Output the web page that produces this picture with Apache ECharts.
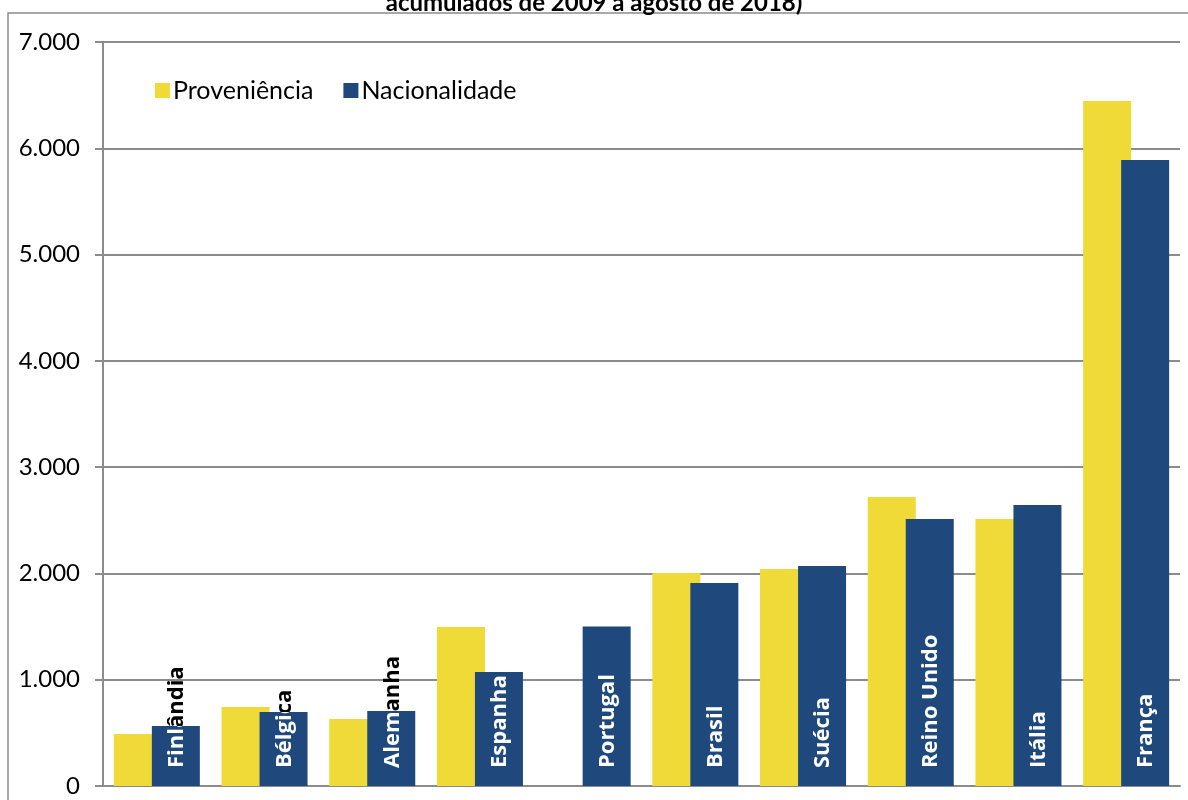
<!DOCTYPE html>
<html>
<head>
<meta charset="utf-8">
<script src="https://cdn.jsdelivr.net/npm/echarts@6/dist/echarts.min.js"></script>
<style>
html,body{margin:0;padding:0;background:#fff;}
#chart{width:1188px;height:800px;}
</style>
</head>
<body>
<div id="chart"></div>
<script>
var categories = ['Finlândia','Bélgica','Alemanha','Espanha','Portugal','Brasil','Suécia','Reino Unido','Itália','França'];
var proveniencia = [490, 743, 630, 1496, 0, 2004, 2041, 2719, 2512, 6444];
var nacionalidade = [565, 696, 705, 1072, 1500, 1910, 2070, 2512, 2643, 5889];
var titleText = 'acumulados de 2009 a agosto de 2018)';

var YELLOW = '#F0DA38';
var BLUE = '#1F497D';
var BAR_W = 48, OVERLAP = 10;
var LABEL_FONT = 'bold 22px "Open Sans"';

function blueRect(api, i) {
  var c0 = api.coord([i, 0]);
  var c1 = api.coord([i, nacionalidade[i]]);
  var total = BAR_W * 2 - OVERLAP;
  var x0 = c0[0] - total / 2 + BAR_W - OVERLAP;
  return {x: x0, y: c1[1], width: BAR_W, height: c0[1] - c1[1], cx: x0 + BAR_W / 2, bottom: c0[1]};
}

function labelRender(color, clip) {
  return function (params, api) {
    var i = params.dataIndex;
    var r = blueRect(api, i);
    var txt = {
      type: 'text',
      x: r.cx + 1, y: r.bottom - 18,
      rotation: Math.PI / 2,
      style: {text: categories[i], fill: color, font: LABEL_FONT, align: 'left', verticalAlign: 'middle'}
    };
    if (!clip) return txt;
    return {
      type: 'group',
      clipPath: {type: 'rect', shape: {x: r.x, y: r.y, width: r.width, height: r.height}},
      children: [txt]
    };
  };
}

var chart = echarts.init(document.getElementById('chart'));
chart.setOption({
  animation: false,
  title: {
    text: titleText, left: 'center', top: -14,
    textStyle: {fontFamily: 'Lato', fontWeight: 'bold', fontSize: 24, color: '#000'}
  },
  graphic: [{
    type: 'rect', shape: {x: 8, y: 13, width: 1200, height: 800},
    style: {fill: 'none', stroke: '#8c8c8c', lineWidth: 1.5}, silent: true, z: -1
  }],
  legend: {
    left: 150, top: 73, itemWidth: 15, itemHeight: 15, itemGap: 30,
    icon: 'rect',
    textStyle: {fontFamily: 'Lato', fontSize: 25, color: '#000', padding: [0, 0, 0, -2]},
    data: ['Proveniência', 'Nacionalidade']
  },
  grid: {left: 103, right: 8, top: 42, bottom: 14, containLabel: false},
  xAxis: {
    type: 'category', data: categories,
    axisLine: {lineStyle: {color: '#8c8c8c', width: 2}},
    axisTick: {show: false}, axisLabel: {show: false}
  },
  yAxis: {
    type: 'value', min: 0, max: 7000, interval: 1000,
    axisLine: {show: true, lineStyle: {color: '#8c8c8c', width: 2}},
    axisTick: {show: true, length: 8, lineStyle: {color: '#8c8c8c', width: 2}},
    splitLine: {lineStyle: {color: '#8c8c8c', width: 2}},
    axisLabel: {
      fontFamily: 'Lato', fontSize: 24, color: '#000', margin: 23,
      formatter: function (v) { return v === 0 ? '0' : (v / 1000) + '.000'; }
    }
  },
  series: [
    {
      type: 'custom', name: 'labelsBlack', z: 1, silent: true, legendHoverLink: false,
      data: categories.map(function (c, i) { return i; }),
      renderItem: labelRender('#000', false)
    },
    {
      type: 'bar', name: 'Proveniência', data: proveniencia, z: 2,
      barWidth: BAR_W, barGap: (-OVERLAP / BAR_W * 100) + '%',
      itemStyle: {color: YELLOW}
    },
    {
      type: 'bar', name: 'Nacionalidade', data: nacionalidade, z: 2,
      barWidth: BAR_W,
      itemStyle: {color: BLUE}
    },
    {
      type: 'custom', name: 'labelsWhite', z: 3, silent: true,
      data: categories.map(function (c, i) { return i; }),
      renderItem: labelRender('#fff', true)
    }
  ]
});
</script>
</body>
</html>
